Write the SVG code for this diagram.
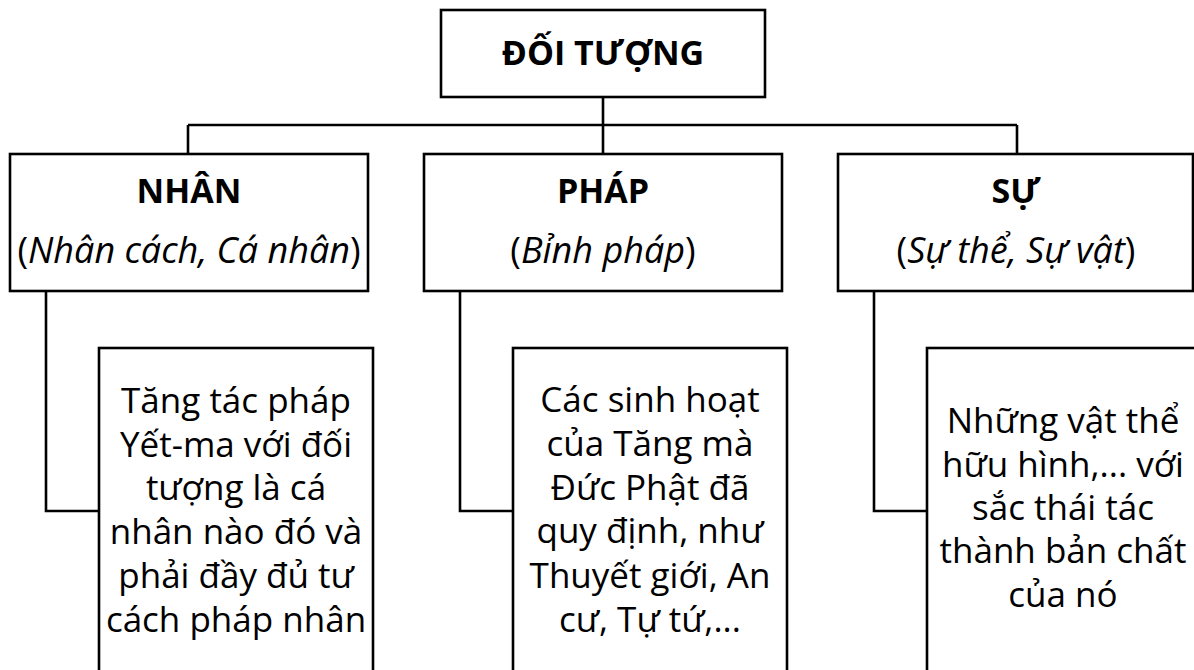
<svg xmlns="http://www.w3.org/2000/svg" width="1194" height="670" viewBox="0 0 1194 670">
<style>
.box{fill:#fff;stroke:#000;stroke-width:2.6}
.ln{fill:none;stroke:#000;stroke-width:2.6}
.t{font-family:"Open Sans","Noto Sans","DejaVu Sans",sans-serif;fill:#000;text-anchor:middle}
.b{font-weight:bold;font-size:34px}
.i{font-size:36px}
.it{font-style:italic}
.body{font-size:35px}
</style>
<rect x="0" y="0" width="1194" height="670" fill="#fff"/>
<g id="connectors">
<path class="ln" d="M603,97 V154 M188,125 H1017 M188,125 V154 M1017,125 V154"/>
<path class="ln" d="M46,291 V511 H99"/>
<path class="ln" d="M460,291 V511 H513"/>
<path class="ln" d="M874,291 V511 H927"/>
</g>
<g id="doi-tuong">
<rect class="box" x="441" y="10" width="324" height="87"/>
<text class="t b" x="603" y="65">ĐỐI TƯỢNG</text>
</g>
<g id="nhan">
<rect class="box" x="10" y="154" width="358" height="137"/>
<text class="t b" x="189" y="203">NHÂN</text>
<text class="t i" x="189" y="263">(<tspan class="it">Nhân cách, Cá nhân</tspan>)</text>
</g>
<g id="phap">
<rect class="box" x="424" y="154" width="358" height="137"/>
<text class="t b" x="603" y="203">PHÁP</text>
<text class="t i" x="603" y="263">(<tspan class="it">Bỉnh pháp</tspan>)</text>
</g>
<g id="su">
<rect class="box" x="838" y="154" width="355" height="137"/>
<text class="t b" x="1016" y="203">SỰ</text>
<text class="t i" x="1016" y="263">(<tspan class="it">Sự thể, Sự vật</tspan>)</text>
</g>
<g id="nhan-detail">
<rect class="box" x="99" y="348" width="274" height="340"/>
<text class="t body" x="236" y="413">Tăng tác pháp</text>
<text class="t body" x="236" y="457">Yết-ma với đối</text>
<text class="t body" x="236" y="500">tượng là cá</text>
<text class="t body" x="236" y="544">nhân nào đó và</text>
<text class="t body" x="236" y="588">phải đầy đủ tư</text>
<text class="t body" x="236" y="632">cách pháp nhân</text>
</g>
<g id="phap-detail">
<rect class="box" x="513" y="348" width="274" height="340"/>
<text class="t body" x="650" y="412">Các sinh hoạt</text>
<text class="t body" x="650" y="456">của Tăng mà</text>
<text class="t body" x="650" y="500">Đức Phật đã</text>
<text class="t body" x="650" y="543">quy định, như</text>
<text class="t body" x="650" y="588">Thuyết giới, An</text>
<text class="t body" x="650" y="632">cư, Tự tứ,...</text>
</g>
<g id="su-detail">
<rect class="box" x="927" y="348" width="280" height="340"/>
<text class="t body" x="1063" y="433">Những vật thể</text>
<text class="t body" x="1063" y="477">hữu hình,... với</text>
<text class="t body" x="1063" y="520">sắc thái tác</text>
<text class="t body" x="1063" y="563">thành bản chất</text>
<text class="t body" x="1063" y="607">của nó</text>
</g>
</svg>
